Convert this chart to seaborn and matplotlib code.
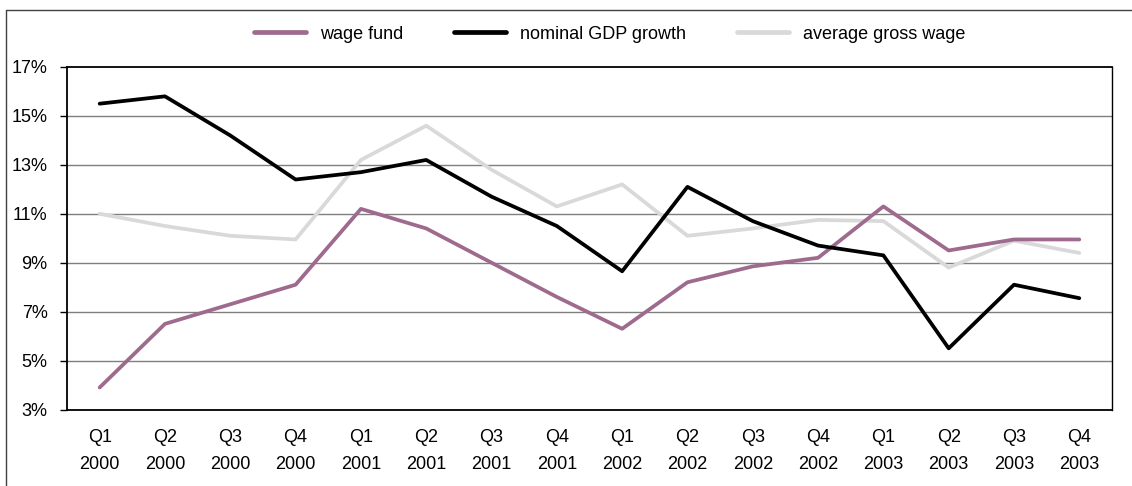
import matplotlib
matplotlib.use("Agg")
import matplotlib.pyplot as plt
from matplotlib.lines import Line2D
import pandas as pd
import seaborn as sns

quarters = ["Q1\n2000", "Q2\n2000", "Q3\n2000", "Q4\n2000",
            "Q1\n2001", "Q2\n2001", "Q3\n2001", "Q4\n2001",
            "Q1\n2002", "Q2\n2002", "Q3\n2002", "Q4\n2002",
            "Q1\n2003", "Q2\n2003", "Q3\n2003", "Q4\n2003"]

wage_fund = [3.9, 6.5, 7.3, 8.1, 11.2, 10.4, 9.0, 7.6,
             6.3, 8.2, 8.85, 9.2, 11.3, 9.5, 9.95, 9.95]
nominal_gdp = [15.5, 15.8, 14.2, 12.4, 12.7, 13.2, 11.7, 10.5,
               8.65, 12.1, 10.7, 9.7, 9.3, 5.5, 8.1, 7.55]
avg_gross_wage = [11.0, 10.5, 10.1, 9.95, 13.2, 14.6, 12.8, 11.3,
                  12.2, 10.1, 10.4, 10.75, 10.7, 8.8, 9.9, 9.4]

series_names = ["wage fund", "nominal GDP growth", "average gross wage"]
series_colors = ["#9E6A8D", "#000000", "#D9D9D9"]
yticks = [3, 5, 7, 9, 11, 13, 15, 17]

frames = []
for name, vals in zip(series_names, [wage_fund, nominal_gdp, avg_gross_wage]):
    frames.append(pd.DataFrame({"pos": range(len(quarters)), "value": vals, "series": name}))
df = pd.concat(frames, ignore_index=True)

sns.set_style("white")
plt.rcParams["font.family"] = ["Liberation Sans", "DejaVu Sans"]
plt.rcParams["text.color"] = "#000000"
plt.rcParams["xtick.color"] = "#000000"
plt.rcParams["ytick.color"] = "#000000"

fig = plt.figure(figsize=(11.32, 4.86), dpi=100)
ax = fig.add_axes([0.0592, 0.1574, 0.9231, 0.7048])

# grid drawn underneath the series
for y in yticks[1:-1]:
    ax.axhline(y, color="#7F7F7F", lw=1.0, zorder=0)

sns.lineplot(data=df, x="pos", y="value", hue="series", hue_order=series_names,
             palette=dict(zip(series_names, series_colors)), ax=ax,
             linewidth=2.7, legend=False, sort=False, zorder=3)

# draw the light series beneath the others
for line, z in zip(ax.get_lines()[-3:], [3, 4, 2]):
    line.set_zorder(z)

ax.set_xlim(-0.5, len(quarters) - 0.5)
ax.set_ylim(3, 17)
ax.set_xticks(range(len(quarters)))
ax.set_xticklabels(quarters, fontsize=13, linespacing=1.75)
ax.set_yticks(yticks)
ax.set_yticklabels([f"{v}%" for v in yticks], fontsize=13)
ax.set_xlabel("")
ax.set_ylabel("")
ax.tick_params(axis="x", length=0, pad=14, labelcolor="#000000")
ax.tick_params(axis="y", length=5, width=1, color="#000000", pad=9, direction="out",
               left=True, labelcolor="#000000")

for side in ["left", "top", "bottom"]:
    ax.spines[side].set_color("#000000")
    ax.spines[side].set_linewidth(1.3)
ax.spines["right"].set_color("#000000")
ax.spines["right"].set_linewidth(1.0)

handles = [Line2D([0], [0], color=c, lw=3.4) for c in series_colors]
leg = fig.legend(handles, series_names, loc="center", bbox_to_anchor=(0.5385, 0.930),
                 ncol=3, frameon=False, fontsize=13, handlelength=2.9,
                 columnspacing=2.8, handletextpad=0.78)
for t in leg.get_texts():
    t.set_color("#000000")

# outer frame around the figure
fig.add_artist(Line2D([0.0053, 0.0053], [0.0, 0.979], transform=fig.transFigure,
                      color="#404040", lw=1.0))
fig.add_artist(Line2D([0.0053, 1.0], [0.979, 0.979], transform=fig.transFigure,
                      color="#404040", lw=1.0))

fig.savefig("out.png", dpi=100)
